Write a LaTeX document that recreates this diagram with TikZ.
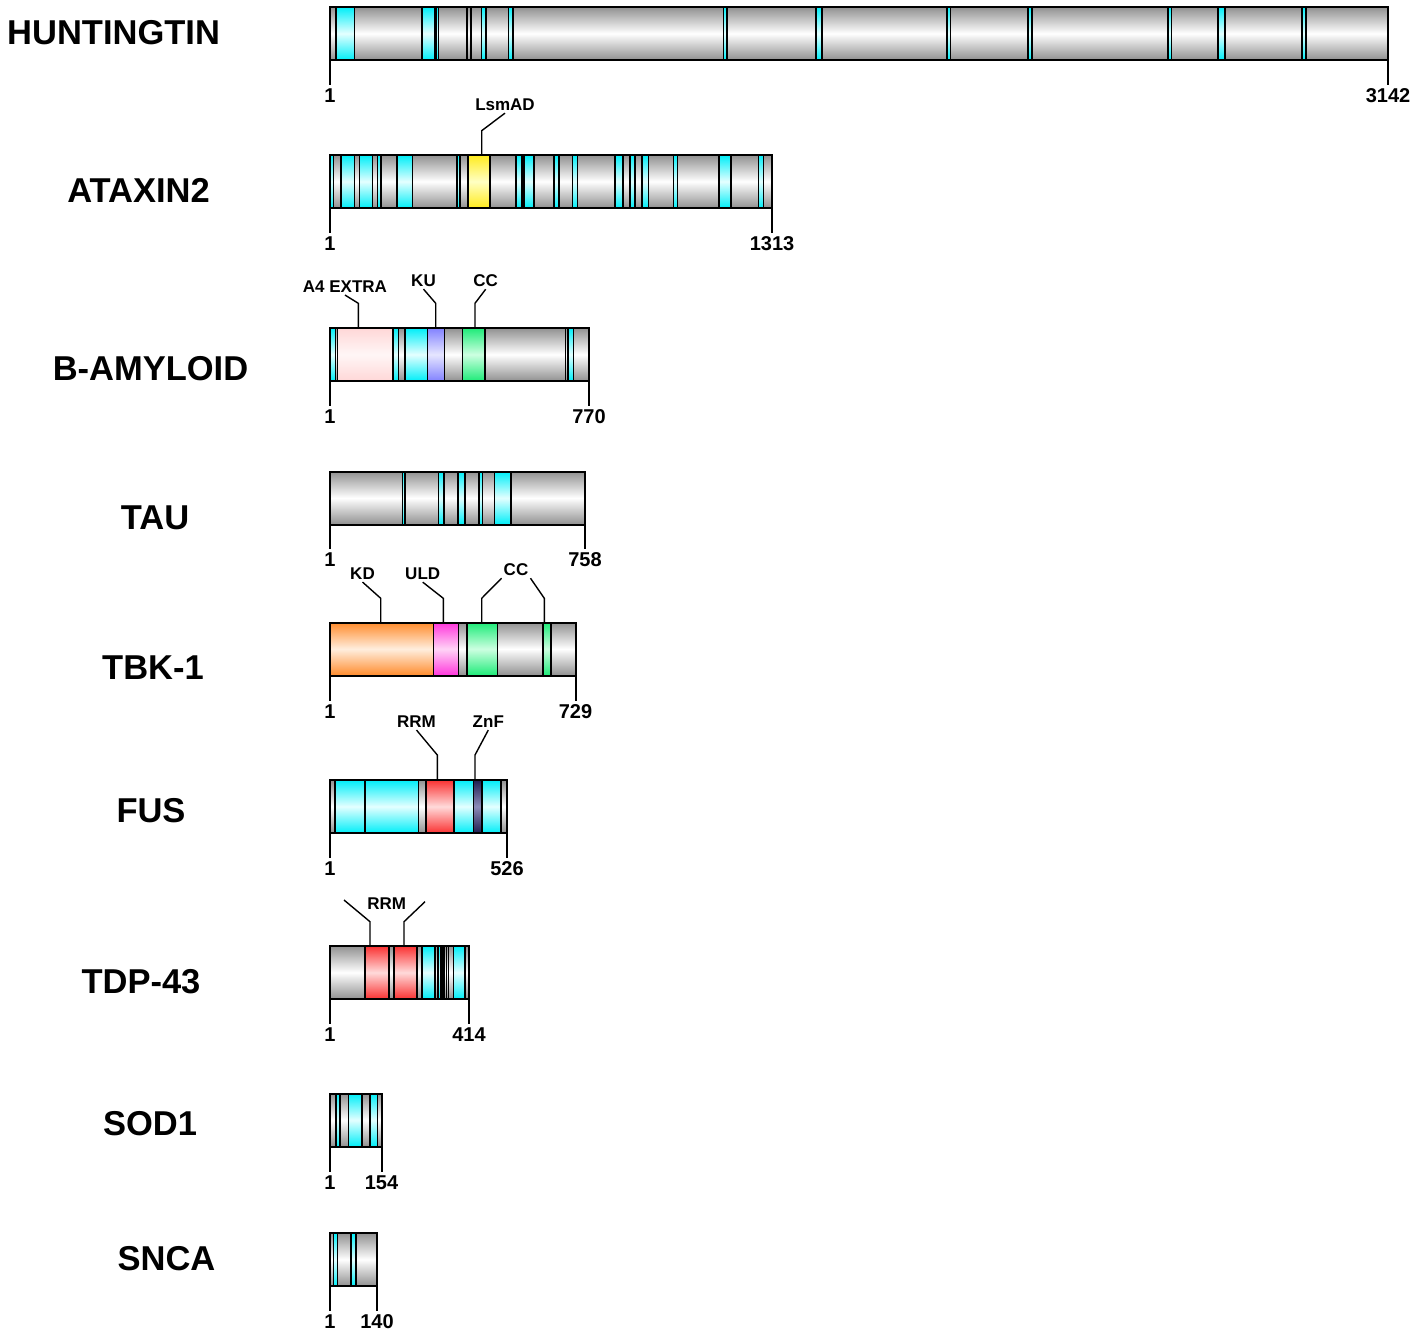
\documentclass[tikz,border=0pt]{standalone}
\usepackage{fontspec}
\setmainfont{Liberation Sans}
\usetikzlibrary{positioning, calc}

\definecolor{segGray}{RGB}{145,145,145}
\definecolor{segCyan}{RGB}{0,238,248}
\definecolor{midCyan}{RGB}{228,255,255}
\definecolor{segYellow}{RGB}{255,235,30}
\definecolor{midYellow}{RGB}{255,255,195}
\definecolor{segPink}{RGB}{255,215,215}
\definecolor{midPink}{RGB}{255,246,246}
\definecolor{segBlue}{RGB}{130,130,255}
\definecolor{midBlue}{RGB}{230,230,255}
\definecolor{segGreen}{RGB}{30,235,120}
\definecolor{midGreen}{RGB}{205,255,225}
\definecolor{segOrange}{RGB}{255,140,45}
\definecolor{midOrange}{RGB}{255,238,222}
\definecolor{segMagenta}{RGB}{255,55,220}
\definecolor{midMagenta}{RGB}{255,212,246}
\definecolor{segRed}{RGB}{250,50,50}
\definecolor{midRed}{RGB}{255,218,218}
\definecolor{segNavy}{RGB}{30,30,80}
\definecolor{midNavy}{RGB}{140,140,185}

\tikzset{
	segbox/.style 2 args={draw=black, line width=1.6pt, top color=#1, bottom color=#1, middle color=#2},
	grayseg/.style={segbox={segGray}{white}},
	cyanseg/.style={segbox={segCyan}{midCyan}},
	yellowseg/.style={segbox={segYellow}{midYellow}},
	pinkseg/.style={segbox={segPink}{midPink}},
	blueseg/.style={segbox={segBlue}{midBlue}},
	greenseg/.style={segbox={segGreen}{midGreen}},
	orangeseg/.style={segbox={segOrange}{midOrange}},
	magentaseg/.style={segbox={segMagenta}{midMagenta}},
	redseg/.style={segbox={segRed}{midRed}},
	navyseg/.style={segbox={segNavy}{midNavy}},
	barbox/.style={grayseg, draw=none, minimum height=53pt, inner sep=0pt, outer sep=0pt, anchor=north west},
	barline/.style={draw=black, line width=2pt},
	ticker/.style={draw=black, line width=2pt},
	pointer/.style={draw=black, line width=1.4pt},
	pname/.style={font=\fontsize{34.5}{40}\selectfont\bfseries, inner sep=0pt},
	num/.style={font=\fontsize{20}{24}\selectfont\bfseries, inner sep=4pt},
	dname/.style={font=\fontsize{17}{20}\selectfont\bfseries, inner sep=2pt},
}

\begin{document}
\begin{tikzpicture}[x=1pt, y=-1pt]
	\fill[white] (0,0) rectangle (1418,1338);
	\useasboundingbox (0,0) rectangle (1418,1338);

	% huntingtin
	\begin{scope}[yshift=-7pt]
		\node[pname, anchor=west] (htt) at (7,26) {HUNTINGTIN};
		\node[barbox, minimum width=1058pt] (httBar) at (330,0) {};
		\foreach \a/\b in {336/354.6, 421.8/435, 436/438.6, 481.4/486, 508.6/513, 723.6/727, 816/822,
			946.8/950.4, 1027.9/1031.8, 1167.9/1171.4, 1218/1225, 1301.8/1306}
			\draw[cyanseg] (\a,0) rectangle (\b,53);
		\draw[grayseg] (466.8,0) rectangle (471.2,53);
		\draw[barline] (httBar.north west) rectangle (httBar.south east);
		\node[num] (htt1) at (330,89) {1};
		\node[num] (httN) at (1388,89) {3142};
		\draw[ticker] (httBar.south west) -- (htt1);
		\draw[ticker] (httBar.south east) -- (httN);
	\end{scope}

	% ataxin 2
	\begin{scope}[yshift=-155pt]
		\node[pname] (atx) at (138.5,35) {ATAXIN2};
		\node[barbox, minimum width=442pt] (atxBar) at (330,0) {};
		\foreach \a/\b in {330/333.3, 340.7/354.3, 359.3/372.3, 377.3/381, 396.7/412.3, 456.7/460,
			515.7/521.7, 524/534, 554/559, 572.3/577.3, 615/622.7, 630/635, 641.7/648.3,
			673.3/677.3, 719/731, 758.3/763.3}
			\draw[cyanseg] (\a,0) rectangle (\b,53);
		\draw[yellowseg] (467.7,0) rectangle (490,53);
		\draw[barline] (atxBar.north west) rectangle (atxBar.south east);
		\node[num] (atx1) at (330,89) {1};
		\node[num] (atxN) at (772,89) {1313};
		\draw[ticker] (atxBar.south west) -- (atx1);
		\draw[ticker] (atxBar.south east) -- (atxN);
		\node[dname] (lsm) at (505,-50) {LsmAD};
		\coordinate (lsmB) at (481.7,-24.3);
		\draw[pointer] (lsm.south) -- (lsmB) -- (lsmB |- atxBar.north);
	\end{scope}

	% beta amyloid
	\begin{scope}[yshift=-328pt]
		\node[pname] (amy) at (150.5,41) {B-AMYLOID};
		\node[barbox, minimum width=259pt] (amyBar) at (330,0) {};
		\foreach \a/\b in {330/335.5, 393/398.5, 405/427.5, 568/573.5}
			\draw[cyanseg] (\a,0) rectangle (\b,53);
		\draw[pinkseg] (337.5,0) rectangle (393,53);
		\draw[blueseg] (427.5,0) rectangle (444.5,53);
		\draw[greenseg] (462.5,0) rectangle (485,53);
		\draw[grayseg] (565.5,0) rectangle (568,53);
		\draw[barline] (amyBar.north west) rectangle (amyBar.south east);
		\node[num] (amy1) at (330,89) {1};
		\node[num] (amyN) at (589,89) {770};
		\draw[ticker] (amyBar.south west) -- (amy1);
		\draw[ticker] (amyBar.south east) -- (amyN);
		\node[dname] (a4) at (345,-41) {A4 EXTRA};
		\node[dname] (ku) at (423.5,-47) {KU};
		\node[dname] (amyCC) at (485.7,-47) {CC};
		\coordinate (a4B) at (358.3,-24.7);
		\coordinate (kuB) at (435.7,-24.7);
		\coordinate (amyCCB) at (475,-24.7);
		\draw[pointer] (a4.south) -- (a4B) -- (a4B |- amyBar.north);
		\draw[pointer] (ku.south) -- (kuB) -- (kuB |- amyBar.north);
		\draw[pointer] (amyCC.south) -- (amyCCB) -- (amyCCB |- amyBar.north);
	\end{scope}

	% tau
	\begin{scope}[yshift=-471.5pt]
		\node[pname] (tau) at (155,46.5) {TAU};
		\node[barbox, minimum width=255pt] (tauBar) at (330,0) {};
		\foreach \a/\b in {402.3/405, 438.3/444, 457.7/465, 479/482.3, 494.3/511}
			\draw[cyanseg] (\a,0) rectangle (\b,53);
		\draw[barline] (tauBar.north west) rectangle (tauBar.south east);
		\node[num] (tau1) at (330,88.5) {1};
		\node[num] (tauN) at (585,88.5) {758};
		\draw[ticker] (tauBar.south west) -- (tau1);
		\draw[ticker] (tauBar.south east) -- (tauN);
	\end{scope}

	% tbk-1
	\begin{scope}[yshift=-622.5pt]
		\node[pname] (tbk) at (153,45.5) {TBK-1};
		\node[barbox, minimum width=245.5pt] (tbkBar) at (330,0) {};
		\draw[orangeseg] (330,0) rectangle (433.3,53);
		\draw[magentaseg] (433.3,0) rectangle (458.3,53);
		\draw[greenseg] (466.7,0) rectangle (497.3,53);
		\draw[greenseg] (542.7,0) rectangle (551,53);
		\draw[barline] (tbkBar.north west) rectangle (tbkBar.south east);
		\node[num] (tbk1) at (330,89.5) {1};
		\node[num] (tbkN) at (575.5,89.5) {729};
		\draw[ticker] (tbkBar.south west) -- (tbk1);
		\draw[ticker] (tbkBar.south east) -- (tbkN);
		\node[dname] (kd) at (362.5,-48.5) {KD};
		\node[dname] (uld) at (422.7,-48.5) {ULD};
		\node[dname] (tbkCC) at (516,-52.5) {CC};
		\coordinate (kdB) at (380.7,-24.2);
		\coordinate (uldB) at (443.3,-24.2);
		\coordinate (tbkCCa) at (481.7,-24.2);
		\coordinate (tbkCCb) at (544.3,-24.2);
		\draw[pointer] (kd.south) -- (kdB) -- (kdB |- tbkBar.north);
		\draw[pointer] (uld.south) -- (uldB) -- (uldB |- tbkBar.north);
		\draw[pointer] (tbkCC.south west) -- (tbkCCa) -- (tbkCCa |- tbkBar.north);
		\draw[pointer] (tbkCC.south east) -- (tbkCCb) -- (tbkCCb |- tbkBar.north);
	\end{scope}

	% fus
	\begin{scope}[yshift=-780pt]
		\node[pname] (fus) at (151,31) {FUS};
		\node[barbox, minimum width=177pt] (fusBar) at (330,0) {};
		\foreach \a/\b in {335/365, 365/418.3, 454.3/473.3, 481.7/500.7}
			\draw[cyanseg] (\a,0) rectangle (\b,53);
		\draw[redseg] (426,0) rectangle (453.3,53);
		\draw[navyseg] (473.3,0) rectangle (481.7,53);
		\draw[barline] (fusBar.north west) rectangle (fusBar.south east);
		\node[num] (fus1) at (330,89) {1};
		\node[num] (fusN) at (507,89) {526};
		\draw[ticker] (fusBar.south west) -- (fus1);
		\draw[ticker] (fusBar.south east) -- (fusN);
		\node[dname] (fusRRM) at (416.5,-58) {RRM};
		\node[dname] (znf) at (488.3,-58) {ZnF};
		\coordinate (fusRRMB) at (437.3,-25);
		\coordinate (znfB) at (475,-25);
		\draw[pointer] (fusRRM.south) -- (fusRRMB) -- (fusRRMB |- fusBar.north);
		\draw[pointer] (znf.south) -- (znfB) -- (znfB |- fusBar.north);
	\end{scope}

	% tdp-43
	\begin{scope}[yshift=-946pt]
		\node[pname] (tdp) at (141,36) {TDP-43};
		\node[barbox, minimum width=139pt] (tdpBar) at (330,0) {};
		\foreach \a/\b in {421.7/435, 438/440.7, 453.3/465}
			\draw[cyanseg] (\a,0) rectangle (\b,53);
		\draw[redseg] (365,0) rectangle (389,53);
		\draw[redseg] (394,0) rectangle (416.7,53);
		\draw[grayseg] (441.7,0) rectangle (444,53);
		\draw[grayseg] (446.5,0) rectangle (448.5,53);
		\draw[barline] (tdpBar.north west) rectangle (tdpBar.south east);
		\node[num] (tdp1) at (330,89) {1};
		\node[num] (tdpN) at (469,89) {414};
		\draw[ticker] (tdpBar.south west) -- (tdp1);
		\draw[ticker] (tdpBar.south east) -- (tdpN);
		\node[dname] (tdpRRM) at (386.7,-42) {RRM};
		\coordinate (tdpRRMa) at (344,-46);
		\coordinate (tdpRRMb) at (425,-44.3);
		\coordinate (tdpRRMaB) at (370,-24.3);
		\coordinate (tdpRRMbB) at (404,-24.3);
		\draw[pointer] (tdpRRMa) -- (tdpRRMaB) -- (tdpRRMaB |- tdpBar.north);
		\draw[pointer] (tdpRRMb) -- (tdpRRMbB) -- (tdpRRMbB |- tdpBar.north);
	\end{scope}

	% sod1
	\begin{scope}[yshift=-1093.5pt]
		\node[pname] (sod) at (150,30.5) {SOD1};
		\node[barbox, minimum width=51.5pt] (sodBar) at (330,0) {};
		\foreach \a/\b in {336/340, 348.3/361.7, 370/377.3}
			\draw[cyanseg] (\a,0) rectangle (\b,53);
		\draw[barline] (sodBar.north west) rectangle (sodBar.south east);
		\node[num] (sod1) at (330,89.5) {1};
		\node[num] (sodN) at (381.5,89.5) {154};
		\draw[ticker] (sodBar.south west) -- (sod1);
		\draw[ticker] (sodBar.south east) -- (sodN);
	\end{scope}

	% snca
	\begin{scope}[yshift=-1233pt]
		\node[pname] (snca) at (166.5,26) {SNCA};
		\node[barbox, minimum width=47pt] (sncaBar) at (330,0) {};
		\foreach \a/\b in {333.3/337.3, 350.7/355.7}
			\draw[cyanseg] (\a,0) rectangle (\b,53);
		\draw[barline] (sncaBar.north west) rectangle (sncaBar.south east);
		\node[num] (snca1) at (330,89) {1};
		\node[num] (sncaN) at (377,89) {140};
		\draw[ticker] (sncaBar.south west) -- (snca1);
		\draw[ticker] (sncaBar.south east) -- (sncaN);
	\end{scope}
\end{tikzpicture}
\end{document}
